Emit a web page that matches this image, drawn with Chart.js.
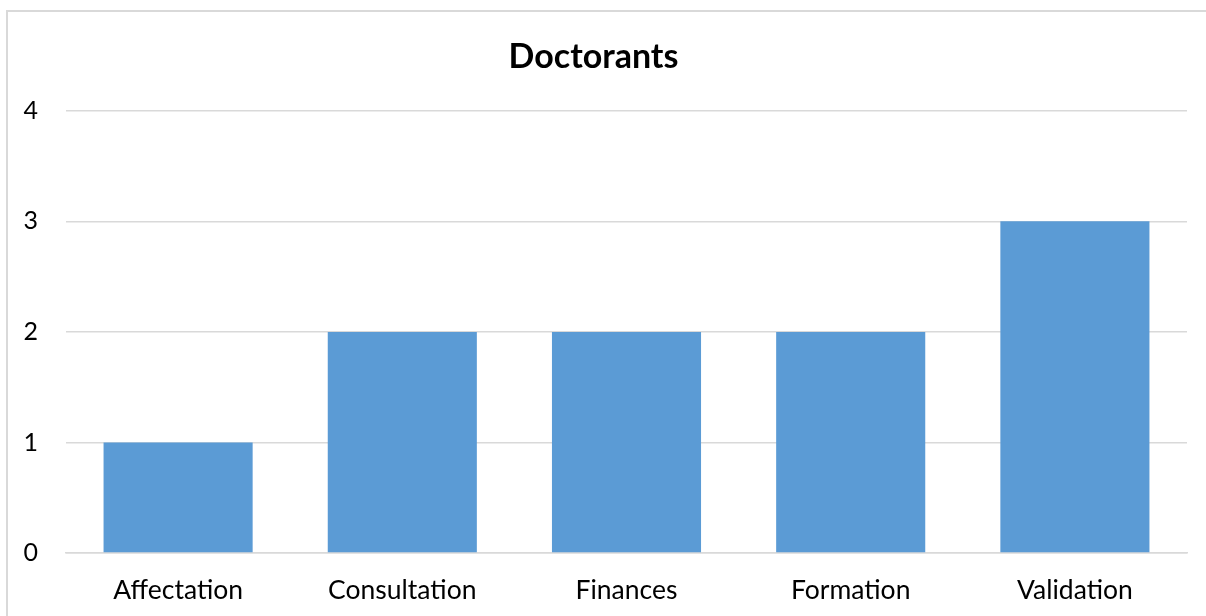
<!DOCTYPE html>
<html>
<head>
<meta charset="utf-8">
<script src="https://cdn.jsdelivr.net/npm/chart.js@4"></script>
<style>
  html, body { margin: 0; background: #fff; overflow: hidden; }
  #frame { position: absolute; left: 6px; top: 10px; width: 1220px; height: 620px;
           border-left: 2px solid #d9d9d9; border-top: 2px solid #d9d9d9; }
  #wrap { position: absolute; left: 0; top: 0; width: 1206px; height: 616px; }
</style>
</head>
<body>
<div id="frame"></div>
<div id="wrap"><canvas id="chart"></canvas></div>
<script>
const categories = ['Affectation', 'Consultation', 'Finances', 'Formation', 'Validation'];
const values = [1, 2, 2, 2, 3];
const yTicks = [0, 1, 2, 3, 4];

const fontFamily = 'Lato, "Open Sans", sans-serif';

new Chart(document.getElementById('chart'), {
    type: 'bar',
    data: {
        labels: categories,
        datasets: [{
            label: 'Doctorants',
            data: values,
            backgroundColor: '#5b9bd5',
            barPercentage: 0.665,
            categoryPercentage: 1
        }]
    },
    options: {
        responsive: true,
        maintainAspectRatio: false,
        animation: false,
        layout: { padding: { left: 0, right: 19, top: 0, bottom: 0 } },
        plugins: {
            legend: { display: false },
            tooltip: { enabled: false },
            title: {
                display: true,
                text: 'Doctorants',
                color: '#000',
                font: { family: fontFamily, size: 34, weight: 'bold' },
                padding: { top: 37, bottom: 33 }
            }
        },
        scales: {
            x: {
                grid: { display: false, drawTicks: false },
                border: { display: true, color: '#d9d9d9', width: 1.5 },
                ticks: { color: '#000', padding: 22, font: { family: fontFamily, size: 26.5 } },
                afterFit: scale => { scale.height = 63; }
            },
            y: {
                min: 0,
                max: 4,
                afterBuildTicks: scale => { scale.ticks = yTicks.map(v => ({ value: v })); },
                grid: { color: '#d9d9d9', lineWidth: 1.5, drawTicks: false },
                border: { display: false },
                ticks: { color: '#000', padding: 28, font: { family: fontFamily, size: 25 } },
                afterFit: scale => { scale.width = 66; }
            }
        }
    }
});
</script>
</body>
</html>
